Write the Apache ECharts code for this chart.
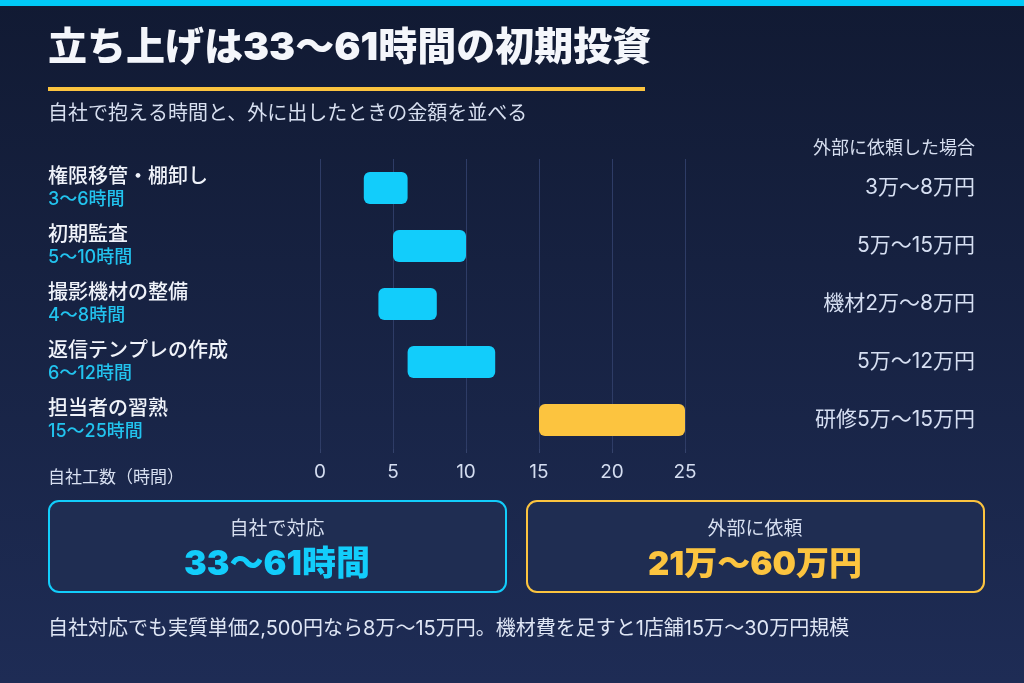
<!DOCTYPE html>
<html><head><meta charset="utf-8">
<script src="https://cdn.jsdelivr.net/npm/echarts@6/dist/echarts.min.js"></script>
<style>html,body{margin:0;padding:0;background:#141d3a;}#c{width:1024px;height:683px;}</style>
</head><body><div id="c"></div>
<script>
const categories = ['権限移管・棚卸し','初期監査','撮影機材の整備','返信テンプレの作成','担当者の習熟'];
const hoursMin = [3,5,4,6,15];
const hoursMax = [6,10,8,12,25];
const costLabels = ['3万〜8万円','5万〜15万円','機材2万〜8万円','5万〜12万円','研修5万〜15万円'];
const highlight = [false,false,false,false,true];
const xTicks = [0,5,10,15,20,25];
const totalHours = '33〜61時間';
const totalCost = '21万〜60万円';

const FONT = 'Inter,"Noto Sans CJK JP",sans-serif';
const CYAN = '#12cdfb';
const YELLOW = '#fcc43f';
const chart = echarts.init(document.getElementById('c'), null, {renderer:'canvas'});

const revCats = categories.slice().reverse();
const idx = categories.map((_, i) => i).reverse();

chart.setOption({
  backgroundColor: {type:'linear',x:0,y:0,x2:0,y2:1,colorStops:[{offset:0,color:'#111a33'},{offset:1,color:'#1e2c55'}]},
  textStyle:{fontFamily:FONT},
  animation:false,
  grid:{left:320,top:159,width:365,height:290,containLabel:false},
  xAxis:{type:'value',min:xTicks[0],max:xTicks[xTicks.length-1],interval:xTicks[1]-xTicks[0],
    axisLine:{show:false},
    axisTick:{show:true,length:4,lineStyle:{color:'#34426b'}},
    splitLine:{show:true,lineStyle:{color:'#2e3c66',width:1}},
    axisLabel:{color:'#d4ddf0',fontSize:19,margin:14,fontFamily:FONT}},
  yAxis:[{type:'category',data:revCats,
    axisLine:{show:false},axisTick:{show:false},splitLine:{show:false},
    axisLabel:{align:'left',margin:272,
      formatter:(v)=>{const i=categories.indexOf(v);return '{n|'+v+'}\n{h|'+hoursMin[i]+'〜'+hoursMax[i]+'時間}';},
      rich:{n:{fontSize:20,color:'#f0f3fa',lineHeight:24,fontFamily:FONT,fontWeight:500},
            h:{fontSize:18,color:'#22c3ee',lineHeight:22,fontFamily:FONT,fontWeight:500}}}},
   {type:'category',data:revCats,position:'right',
    axisLine:{show:false},axisTick:{show:false},splitLine:{show:false},
    axisLabel:{align:'right',margin:290,color:'#d6dff2',fontSize:21,fontFamily:FONT,
      formatter:(v)=>costLabels[categories.indexOf(v)]}}],
  series:[
    {type:'bar',stack:'h',barWidth:32,silent:true,
     data:idx.map(i=>hoursMin[i]),itemStyle:{color:'rgba(0,0,0,0)'}},
    {type:'bar',stack:'h',barWidth:32,
     data:idx.map(i=>({value:hoursMax[i]-hoursMin[i],itemStyle:{color:highlight[i]?YELLOW:CYAN,borderRadius:6}}))}
  ],
  graphic:[
    {type:'rect',shape:{x:0,y:0,width:1024,height:6},style:{fill:'#00c9f7'}},
    {type:'text',left:48,top:29,style:{text:'立ち上げは33〜61時間の初期投資',fill:'#f4f6fb',font:'900 39px '+FONT}},
    {type:'rect',shape:{x:48,y:87,width:597,height:4},style:{fill:YELLOW}},
    {type:'text',left:48,top:104,style:{text:'自社で抱える時間と、外に出したときの金額を並べる',fill:'#d7dff0',font:'20px '+FONT}},
    {type:'text',right:49,top:140,style:{text:'外部に依頼した場合',fill:'#d7dff0',font:'18px '+FONT}},
    {type:'text',left:48,top:469,style:{text:'自社工数（時間）',fill:'#d7dff0',font:'17px '+FONT}},
    {type:'rect',shape:{x:49,y:501,width:457,height:91,r:10},style:{fill:'#1f2d52',stroke:CYAN,lineWidth:2}},
    {type:'text',x:277,y:529,style:{text:'自社で対応',fill:'#d7dff0',font:'19px '+FONT,align:'center',verticalAlign:'middle'}},
    {type:'text',x:277,y:565,style:{text:totalHours,fill:CYAN,font:'900 34px '+FONT,align:'center',verticalAlign:'middle'}},
    {type:'rect',shape:{x:527,y:501,width:457,height:91,r:10},style:{fill:'#1f2d52',stroke:YELLOW,lineWidth:2}},
    {type:'text',x:755,y:529,style:{text:'外部に依頼',fill:'#d7dff0',font:'19px '+FONT,align:'center',verticalAlign:'middle'}},
    {type:'text',x:755,y:565,style:{text:totalCost,fill:YELLOW,font:'900 33px '+FONT,align:'center',verticalAlign:'middle'}},
    {type:'text',left:48,top:619,style:{text:'自社対応でも実質単価2,500円なら8万〜15万円。機材費を足すと1店舗15万〜30万円規模',fill:'#dfe6f5',font:'20px '+FONT}}
  ]
});
</script></body></html>
